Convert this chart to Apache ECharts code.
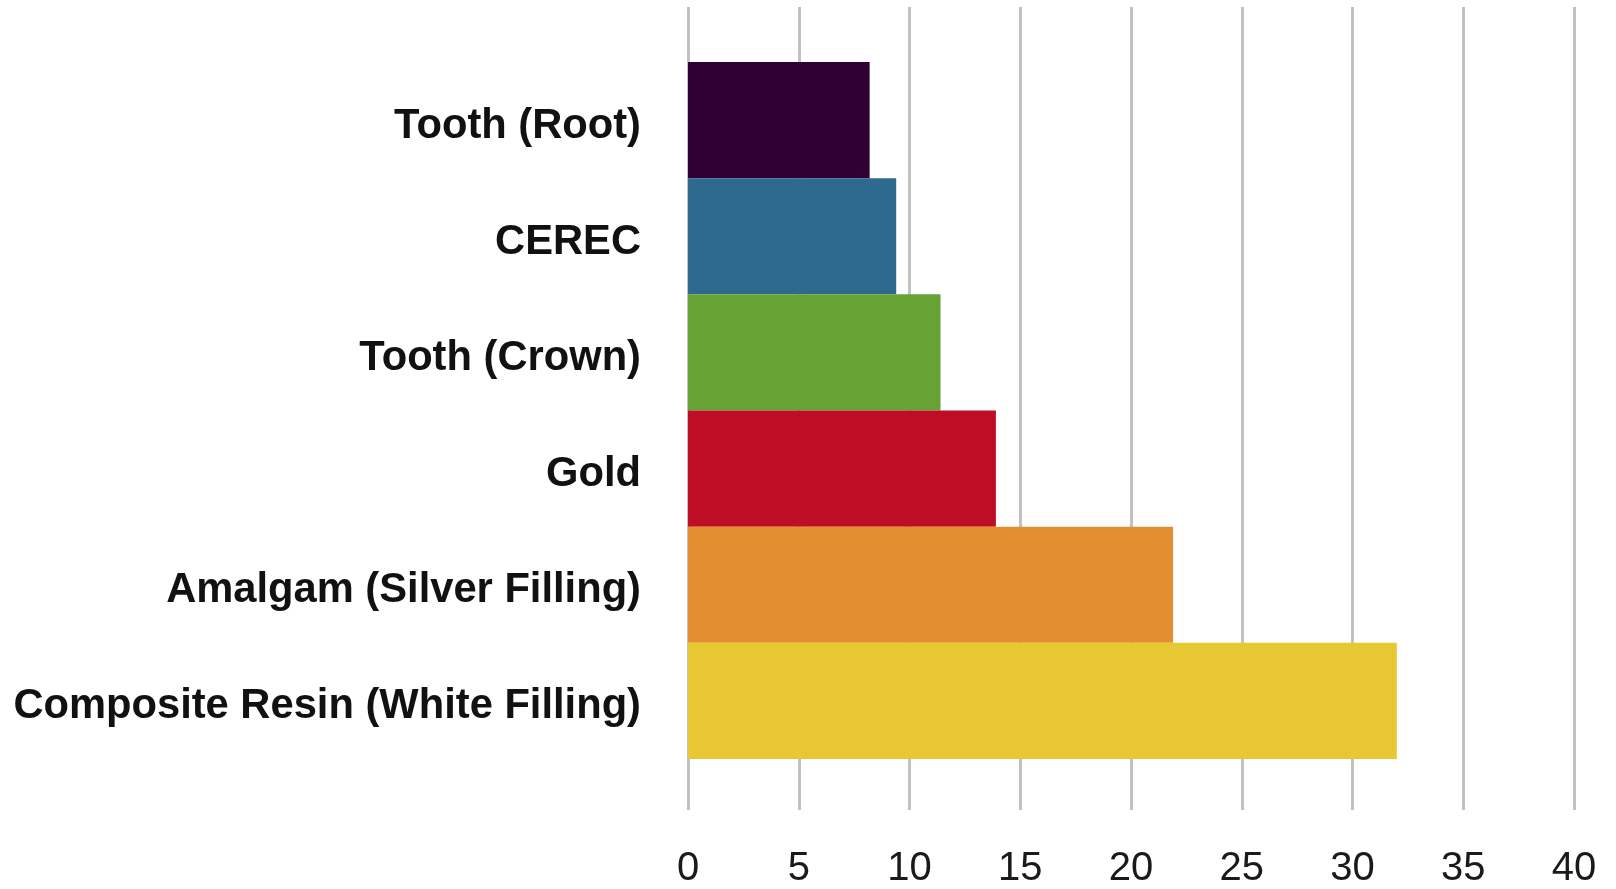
<!DOCTYPE html>
<html>
<head>
<meta charset="utf-8">
<title>Fillings</title>
<script src="https://cdn.jsdelivr.net/npm/echarts@6/dist/echarts.min.js"></script>
<style>
  html, body { margin: 0; padding: 0; background: #fff; }
  #chart { width: 1616px; height: 889px; }
</style>
</head>
<body>
<div id="chart"></div>
<script>
// categories, top to bottom
const categories = [
    'Tooth (Root)',
    'CEREC',
    'Tooth (Crown)',
    'Gold',
    'Amalgam (Silver Filling)',
    'Composite Resin (White Filling)'
];
const values = [8.2, 9.4, 11.4, 13.9, 21.9, 32];
const barColors = ['#2f0033', '#2e6a8e', '#67a334', '#c00d26', '#e38e2f', '#e8c832'];
const xTicks = [0, 5, 10, 15, 20, 25, 30, 35, 40];

const fontFamily = '"Liberation Sans", Arial, Helvetica, sans-serif';

const chartDom = document.getElementById('chart');
const chart = echarts.init(chartDom, null, { renderer: 'canvas' });

const xMin = xTicks[0];
const xMax = xTicks[xTicks.length - 1];
const xStep = xTicks[1] - xTicks[0];

const option = {
    backgroundColor: '#fff',
    animation: false,
    grid: [
        // grid 0: gridlines + x labels (taller than the bars)
        { left: 688, right: 42, top: 7, bottom: 74 },
        // grid 1: the bars + category labels
        { left: 688, right: 42, top: 62, bottom: 130 }
    ],
    xAxis: [
        {
            gridIndex: 0,
            type: 'value',
            min: xMin,
            max: xMax,
            interval: xStep,
            axisLine: { show: false },
            axisTick: { show: false },
            splitLine: {
                show: true,
                lineStyle: { color: '#c2c2c2', width: 3 }
            },
            axisLabel: {
                margin: 39,
                fontSize: 40,
                color: '#1a1a1a',
                fontFamily
            }
        },
        {
            gridIndex: 1,
            type: 'value',
            min: xMin,
            max: xMax,
            show: false
        }
    ],
    yAxis: [
        {
            gridIndex: 0,
            type: 'value',
            show: false
        },
        {
            gridIndex: 1,
            type: 'category',
            inverse: true,
            data: categories,
            axisLine: { show: false },
            axisTick: { show: false },
            splitLine: { show: false },
            axisLabel: {
                margin: 47,
                formatter: (name) => `{c|${name}}`,
                rich: {
                    // top padding pushes the text a bit below the band centre
                    c: {
                        fontSize: 41.7,
                        fontWeight: 'bold',
                        color: '#111',
                        fontFamily,
                        padding: [12, 0, 0, 0]
                    }
                }
            }
        }
    ],
    series: [{
        type: 'bar',
        xAxisIndex: 1,
        yAxisIndex: 1,
        barWidth: '100%',
        data: values.map((v, i) => ({
            value: v,
            itemStyle: { color: barColors[i] }
        }))
    }]
};

chart.setOption(option);
</script>
</body>
</html>
